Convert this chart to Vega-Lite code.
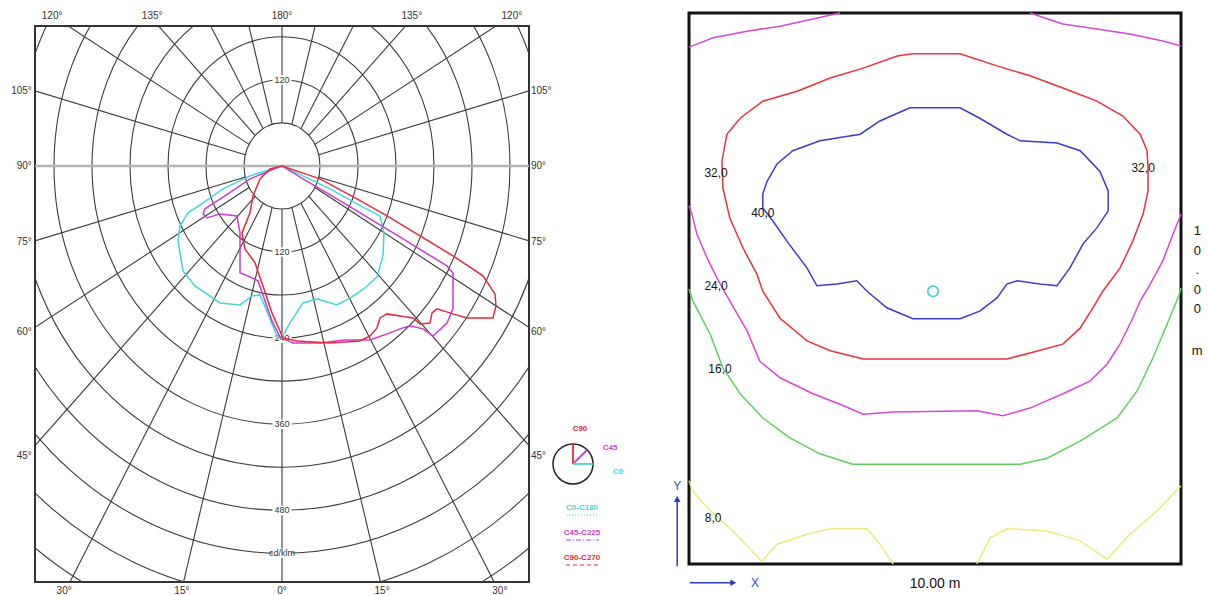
{
  "$schema": "https://vega.github.io/schema/vega-lite/v6.json",
  "autosize": {"type": "pad"},
  "padding": {"left": 10, "top": 9, "right": 8, "bottom": 2},
  "background": "white",
  "spacing": 160,
  "bounds": "flush",
  "resolve": {"scale": {"color": "independent", "size": "independent", "strokeDash": "independent"}},
  "config": {"view": {"stroke": null}, "text": {"font": "Liberation Sans"}},
  "datasets": {
    "rings": [{"r":60},{"r":120},{"r":180},{"r":240},{"r":300},{"r":360},{"r":420},{"r":480},{"r":540},{"r":600},{"r":660}],
    "rays": [
      {"x":0,"y":-60,"x2":0,"y2":-800},
      {"x":15.53,"y":-57.96,"x2":207.1,"y2":-772.7},
      {"x":30,"y":-51.96,"x2":400,"y2":-692.8},
      {"x":42.43,"y":-42.43,"x2":565.7,"y2":-565.7},
      {"x":51.96,"y":-30,"x2":692.8,"y2":-400},
      {"x":57.96,"y":-15.53,"x2":772.7,"y2":-207.1},
      {"x":57.96,"y":15.53,"x2":772.7,"y2":207.1},
      {"x":51.96,"y":30,"x2":692.8,"y2":400},
      {"x":42.43,"y":42.43,"x2":565.7,"y2":565.7},
      {"x":30,"y":51.96,"x2":400,"y2":692.8},
      {"x":15.53,"y":57.96,"x2":207.1,"y2":772.7},
      {"x":0,"y":60,"x2":0,"y2":800},
      {"x":-15.53,"y":-57.96,"x2":-207.1,"y2":-772.7},
      {"x":-30,"y":-51.96,"x2":-400,"y2":-692.8},
      {"x":-42.43,"y":-42.43,"x2":-565.7,"y2":-565.7},
      {"x":-51.96,"y":-30,"x2":-692.8,"y2":-400},
      {"x":-57.96,"y":-15.53,"x2":-772.7,"y2":-207.1},
      {"x":-57.96,"y":15.53,"x2":-772.7,"y2":207.1},
      {"x":-51.96,"y":30,"x2":-692.8,"y2":400},
      {"x":-42.43,"y":42.43,"x2":-565.7,"y2":565.7},
      {"x":-30,"y":51.96,"x2":-400,"y2":692.8},
      {"x":-15.53,"y":57.96,"x2":-207.1,"y2":772.7}
    ],
    "plab": [{"t":"120","y":120},{"t":"120","y":-120},{"t":"240","y":-240},{"t":"360","y":-360},{"t":"480","y":-480},{"t":"cd/klm","y":-540}],
    "alab": [
      {"t":"120°","side":"t","x":-363,"y":209},{"t":"135°","side":"t","x":-205,"y":209},{"t":"180°","side":"t","x":0,"y":209},{"t":"135°","side":"t","x":205,"y":209},{"t":"120°","side":"t","x":363,"y":209},
      {"t":"30°","side":"b","x":-344,"y":-592},{"t":"15°","side":"b","x":-158,"y":-592},{"t":"0°","side":"b","x":0,"y":-592},{"t":"15°","side":"b","x":158,"y":-592},{"t":"30°","side":"b","x":344,"y":-592},
      {"t":"105°","side":"l","x":-395,"y":104},{"t":"90°","side":"l","x":-395,"y":0},{"t":"75°","side":"l","x":-395,"y":-106},{"t":"60°","side":"l","x":-395,"y":-232},{"t":"45°","side":"l","x":-395,"y":-404},
      {"t":"105°","side":"r","x":393,"y":104},{"t":"90°","side":"r","x":393,"y":0},{"t":"75°","side":"r","x":393,"y":-106},{"t":"60°","side":"r","x":393,"y":-232},{"t":"45°","side":"r","x":393,"y":-404}
    ],
    "curves": [
      {"s":"C0-C180","x":0,"y":0},{"s":"C0-C180","x":-50.5,"y":-13.9},{"s":"C0-C180","x":-93.2,"y":-32.1},{"s":"C0-C180","x":-124.7,"y":-51.6},{"s":"C0-C180","x":-148.4,"y":-65.5},{"s":"C0-C180","x":-161.1,"y":-83.6},{"s":"C0-C180","x":-164.2,"y":-104.6},{"s":"C0-C180","x":-156.3,"y":-146.4},{"s":"C0-C180","x":-137.4,"y":-167.3},{"s":"C0-C180","x":-97.9,"y":-191.0},{"s":"C0-C180","x":-66.3,"y":-193.8},{"s":"C0-C180","x":-47.4,"y":-181.2},{"s":"C0-C180","x":-34.7,"y":-179.8},{"s":"C0-C180","x":-22.1,"y":-206.3},{"s":"C0-C180","x":-7.9,"y":-237.0},{"s":"C0-C180","x":-1.6,"y":-241.2},{"s":"C0-C180","x":12.6,"y":-218.9},{"s":"C0-C180","x":33.2,"y":-191.0},{"s":"C0-C180","x":55.3,"y":-185.4},{"s":"C0-C180","x":86.8,"y":-193.8},{"s":"C0-C180","x":110.5,"y":-182.6},{"s":"C0-C180","x":131.1,"y":-170.1},{"s":"C0-C180","x":150.0,"y":-154.7},{"s":"C0-C180","x":159.5,"y":-125.5},{"s":"C0-C180","x":161.1,"y":-93.4},{"s":"C0-C180","x":154.7,"y":-69.7},{"s":"C0-C180","x":118.4,"y":-53.0},{"s":"C0-C180","x":75.8,"y":-32.1},{"s":"C0-C180","x":33.2,"y":-13.9},{"s":"C0-C180","x":0,"y":0},
      {"s":"C45-C225","x":0,"y":0},{"s":"C45-C225","x":-50.5,"y":-18.1},{"s":"C45-C225","x":-90.0,"y":-41.8},{"s":"C45-C225","x":-121.6,"y":-59.9},{"s":"C45-C225","x":-124.7,"y":-66.9},{"s":"C45-C225","x":-118.4,"y":-72.5},{"s":"C45-C225","x":-97.9,"y":-66.9},{"s":"C45-C225","x":-71.1,"y":-69.7},{"s":"C45-C225","x":-66.3,"y":-93.4},{"s":"C45-C225","x":-66.3,"y":-149.2},{"s":"C45-C225","x":-50.5,"y":-154.7},{"s":"C45-C225","x":-37.9,"y":-160.3},{"s":"C45-C225","x":-26.8,"y":-188.2},{"s":"C45-C225","x":-15.8,"y":-216.1},{"s":"C45-C225","x":-3.2,"y":-238.4},{"s":"C45-C225","x":17.4,"y":-246.7},{"s":"C45-C225","x":60.0,"y":-246.7},{"s":"C45-C225","x":99.5,"y":-242.6},{"s":"C45-C225","x":139.0,"y":-242.6},{"s":"C45-C225","x":170.5,"y":-232.8},{"s":"C45-C225","x":186.3,"y":-227.2},{"s":"C45-C225","x":202.1,"y":-223.0},{"s":"C45-C225","x":222.6,"y":-227.2},{"s":"C45-C225","x":238.4,"y":-237.0},{"s":"C45-C225","x":260.5,"y":-218.9},{"s":"C45-C225","x":270.0,"y":-199.3},{"s":"C45-C225","x":270.0,"y":-149.2},{"s":"C45-C225","x":260.5,"y":-139.4},{"s":"C45-C225","x":191.1,"y":-101.8},{"s":"C45-C225","x":139.0,"y":-73.9},{"s":"C45-C225","x":86.8,"y":-46.0},{"s":"C45-C225","x":33.2,"y":-18.1},{"s":"C45-C225","x":0,"y":0},
      {"s":"C90-C270","x":0,"y":0},{"s":"C90-C270","x":60.0,"y":-18.1},{"s":"C90-C270","x":118.4,"y":-46.0},{"s":"C90-C270","x":165.8,"y":-69.7},{"s":"C90-C270","x":217.9,"y":-97.6},{"s":"C90-C270","x":270.0,"y":-125.5},{"s":"C90-C270","x":317.4,"y":-153.3},{"s":"C90-C270","x":336.3,"y":-178.4},{"s":"C90-C270","x":337.9,"y":-195.2},{"s":"C90-C270","x":333.2,"y":-211.9},{"s":"C90-C270","x":292.1,"y":-211.9},{"s":"C90-C270","x":270.0,"y":-206.3},{"s":"C90-C270","x":244.7,"y":-199.3},{"s":"C90-C270","x":236.9,"y":-204.9},{"s":"C90-C270","x":233.7,"y":-218.9},{"s":"C90-C270","x":217.9,"y":-220.3},{"s":"C90-C270","x":206.8,"y":-211.9},{"s":"C90-C270","x":186.3,"y":-209.1},{"s":"C90-C270","x":165.8,"y":-206.3},{"s":"C90-C270","x":154.7,"y":-211.9},{"s":"C90-C270","x":150.0,"y":-225.8},{"s":"C90-C270","x":139.0,"y":-237.0},{"s":"C90-C270","x":123.2,"y":-244.0},{"s":"C90-C270","x":75.8,"y":-246.7},{"s":"C90-C270","x":23.7,"y":-244.0},{"s":"C90-C270","x":1.6,"y":-239.8},{"s":"C90-C270","x":-15.8,"y":-204.9},{"s":"C90-C270","x":-30.0,"y":-167.3},{"s":"C90-C270","x":-42.6,"y":-135.2},{"s":"C90-C270","x":-58.4,"y":-115.7},{"s":"C90-C270","x":-63.2,"y":-93.4},{"s":"C90-C270","x":-50.5,"y":-65.5},{"s":"C90-C270","x":-45.8,"y":-41.8},{"s":"C90-C270","x":-34.7,"y":-18.1},{"s":"C90-C270","x":-18.9,"y":-4.2},{"s":"C90-C270","x":0,"y":0}
    ],
    "legl": [
      {"s":"C90-C270","x":459.5,"y":-415.5,"x2":459.5,"y2":-387.6},
      {"s":"C45-C225","x":459.5,"y":-415.5,"x2":481.6,"y2":-396.0},
      {"s":"C0-C180","x":459.5,"y":-415.5,"x2":491.1,"y2":-415.5}
    ],
    "legt": [
      {"s":"C90-C270","t":"C90","x":470.5,"y":-366.7},
      {"s":"C45-C225","t":"C45","x":517.9,"y":-393.2},
      {"s":"C0-C180","t":"C0","x":530.5,"y":-426.7},
      {"s":"C0-C180","t":"C0-C180","x":473.7,"y":-476.9},
      {"s":"C45-C225","t":"C45-C225","x":473.7,"y":-511.7},
      {"s":"C90-C270","t":"C90-C270","x":473.7,"y":-546.6}
    ],
    "legu": [
      {"s":"C0-C180","x":448.4,"x2":500.5,"y":-486.6},
      {"s":"C45-C225","x":448.4,"x2":500.5,"y":-521.5},
      {"s":"C90-C270","x":448.4,"x2":500.5,"y":-556.3}
    ],
    "contours": [
      {"id":"24a","x":0,"y":9.38},{"id":"24a","x":0.49,"y":9.55},{"id":"24a","x":1.18,"y":9.67},{"id":"24a","x":1.85,"y":9.76},{"id":"24a","x":2.52,"y":9.89},{"id":"24a","x":3.07,"y":10.0},
      {"id":"24b","x":6.93,"y":10.0},{"id":"24b","x":7.60,"y":9.80},{"id":"24b","x":8.29,"y":9.71},{"id":"24b","x":8.96,"y":9.62},{"id":"24b","x":9.63,"y":9.49},{"id":"24b","x":10.0,"y":9.40},
      {"id":"32","x":0.69,"y":6.82},{"id":"32","x":0.67,"y":7.31},{"id":"32","x":0.77,"y":7.80},{"id":"32","x":1.04,"y":8.09},{"id":"32","x":1.50,"y":8.40},{"id":"32","x":2.20,"y":8.58},{"id":"32","x":2.87,"y":8.82},{"id":"32","x":3.54,"y":9.00},{"id":"32","x":4.23,"y":9.22},{"id":"32","x":4.55,"y":9.26},{"id":"32","x":5.51,"y":9.26},{"id":"32","x":6.26,"y":9.04},{"id":"32","x":6.93,"y":8.86},{"id":"32","x":7.60,"y":8.64},{"id":"32","x":8.29,"y":8.40},{"id":"32","x":8.82,"y":8.13},{"id":"32","x":9.17,"y":7.80},{"id":"32","x":9.31,"y":7.50},{"id":"32","x":9.33,"y":7.19},{"id":"32","x":9.33,"y":6.77},{"id":"32","x":9.23,"y":6.35},{"id":"32","x":9.02,"y":5.86},{"id":"32","x":8.76,"y":5.37},{"id":"32","x":8.41,"y":4.95},{"id":"32","x":8.21,"y":4.65},{"id":"32","x":7.95,"y":4.28},{"id":"32","x":7.60,"y":3.99},{"id":"32","x":6.93,"y":3.83},{"id":"32","x":6.46,"y":3.72},{"id":"32","x":3.54,"y":3.72},{"id":"32","x":2.87,"y":3.87},{"id":"32","x":2.40,"y":4.05},{"id":"32","x":1.85,"y":4.46},{"id":"32","x":1.50,"y":4.95},{"id":"32","x":1.38,"y":5.26},{"id":"32","x":1.10,"y":5.73},{"id":"32","x":0.83,"y":6.28},{"id":"32","x":0.69,"y":6.82},
      {"id":"40","x":1.50,"y":6.72},{"id":"40","x":1.59,"y":6.95},{"id":"40","x":1.79,"y":7.26},{"id":"40","x":2.11,"y":7.50},{"id":"40","x":2.66,"y":7.68},{"id":"40","x":3.48,"y":7.80},{"id":"40","x":3.88,"y":8.04},{"id":"40","x":4.49,"y":8.28},{"id":"40","x":5.51,"y":8.28},{"id":"40","x":5.91,"y":8.09},{"id":"40","x":6.46,"y":7.80},{"id":"40","x":6.73,"y":7.68},{"id":"40","x":7.48,"y":7.64},{"id":"40","x":7.95,"y":7.50},{"id":"40","x":8.35,"y":7.13},{"id":"40","x":8.52,"y":6.77},{"id":"40","x":8.52,"y":6.41},{"id":"40","x":8.29,"y":6.10},{"id":"40","x":8.01,"y":5.81},{"id":"40","x":7.74,"y":5.37},{"id":"40","x":7.48,"y":5.05},{"id":"40","x":7.13,"y":5.08},{"id":"40","x":6.67,"y":5.14},{"id":"40","x":6.46,"y":5.08},{"id":"40","x":6.26,"y":4.83},{"id":"40","x":5.91,"y":4.59},{"id":"40","x":5.51,"y":4.45},{"id":"40","x":4.55,"y":4.45},{"id":"40","x":4.02,"y":4.65},{"id":"40","x":3.62,"y":4.95},{"id":"40","x":3.41,"y":5.14},{"id":"40","x":3.01,"y":5.08},{"id":"40","x":2.60,"y":5.05},{"id":"40","x":2.40,"y":5.37},{"id":"40","x":1.99,"y":5.86},{"id":"40","x":1.71,"y":6.22},{"id":"40","x":1.50,"y":6.46},{"id":"40","x":1.50,"y":6.72},
      {"id":"24","x":0,"y":6.50},{"id":"24","x":0.06,"y":6.35},{"id":"24","x":0.16,"y":5.99},{"id":"24","x":0.37,"y":5.55},{"id":"24","x":0.57,"y":5.19},{"id":"24","x":0.83,"y":4.77},{"id":"24","x":1.18,"y":4.23},{"id":"24","x":1.44,"y":3.68},{"id":"24","x":1.85,"y":3.38},{"id":"24","x":2.52,"y":3.09},{"id":"24","x":3.07,"y":2.90},{"id":"24","x":3.54,"y":2.72},{"id":"24","x":4.15,"y":2.76},{"id":"24","x":5.85,"y":2.78},{"id":"24","x":6.38,"y":2.69},{"id":"24","x":6.93,"y":2.83},{"id":"24","x":7.60,"y":3.09},{"id":"24","x":8.15,"y":3.32},{"id":"24","x":8.50,"y":3.63},{"id":"24","x":8.76,"y":3.99},{"id":"24","x":9.02,"y":4.46},{"id":"24","x":9.17,"y":4.77},{"id":"24","x":9.37,"y":5.07},{"id":"24","x":9.63,"y":5.50},{"id":"24","x":9.84,"y":5.99},{"id":"24","x":10.0,"y":6.35},
      {"id":"16","x":0,"y":4.99},{"id":"16","x":0.08,"y":4.77},{"id":"16","x":0.43,"y":4.17},{"id":"16","x":0.69,"y":3.56},{"id":"16","x":1.04,"y":3.09},{"id":"16","x":1.50,"y":2.65},{"id":"16","x":2.05,"y":2.29},{"id":"16","x":2.66,"y":2.00},{"id":"16","x":3.33,"y":1.81},{"id":"16","x":6.73,"y":1.81},{"id":"16","x":7.28,"y":1.92},{"id":"16","x":7.95,"y":2.23},{"id":"16","x":8.70,"y":2.65},{"id":"16","x":9.11,"y":3.14},{"id":"16","x":9.43,"y":3.74},{"id":"16","x":9.72,"y":4.36},{"id":"16","x":9.94,"y":4.83},{"id":"16","x":10.0,"y":5.01},
      {"id":"8a","x":0,"y":1.51},{"id":"8a","x":0.08,"y":1.32},{"id":"8a","x":0.37,"y":1.02},{"id":"8a","x":0.89,"y":0.60},{"id":"8a","x":1.48,"y":0.05},{"id":"8a","x":1.79,"y":0.36},{"id":"8a","x":2.40,"y":0.54},{"id":"8a","x":2.87,"y":0.64},{"id":"8a","x":3.62,"y":0.64},{"id":"8a","x":3.88,"y":0.36},{"id":"8a","x":4.15,"y":0},
      {"id":"8b","x":5.85,"y":0},{"id":"8b","x":6.12,"y":0.47},{"id":"8b","x":6.46,"y":0.64},{"id":"8b","x":7.28,"y":0.60},{"id":"8b","x":7.95,"y":0.42},{"id":"8b","x":8.50,"y":0.09},{"id":"8b","x":8.96,"y":0.54},{"id":"8b","x":9.51,"y":0.96},{"id":"8b","x":10.0,"y":1.42}
    ],
    "clab": [
      {"t":"32,0","x":0.55,"y":7.10},{"t":"32,0","x":9.23,"y":7.19},{"t":"40,0","x":1.50,"y":6.37},{"t":"24,0","x":0.55,"y":5.05},{"t":"16,0","x":0.63,"y":3.54},{"t":"8,0","x":0.49,"y":0.83}
    ]
  },
  "hconcat": [
    {
      "width": 494,
      "height": 556,
      "view": {"stroke": "#333333", "strokeWidth": 2},
      "layer": [
        {
          "data": {"name": "rings"},
          "mark": {"type": "point", "shape": "M0,-1.13277A1,1.13277,0,0,1,1,0A1,1.13277,0,0,1,0,1.13277A1,1.13277,0,0,1,-1,0A1,1.13277,0,0,1,0,-1.13277Z", "filled": false, "stroke": "#3a3a3a", "strokeWidth": 1.1, "opacity": 1, "clip": true},
          "encoding": {
            "x": {"datum": 0, "type": "quantitative", "scale": {"domain": [-390, 390], "nice": false, "zero": false}, "axis": null},
            "y": {"datum": 0, "type": "quantitative", "scale": {"domain": [-580, 195], "nice": false, "zero": false}, "axis": null},
            "size": {"field": "r", "type": "quantitative", "scale": {"type": "pow", "exponent": 2, "domain": [0, 660], "range": [0, 698896]}, "legend": null}
          }
        },
        {
          "data": {"name": "rays"},
          "mark": {"type": "rule", "stroke": "#3a3a3a", "strokeWidth": 1.1, "clip": true},
          "encoding": {
            "x": {"field": "x", "type": "quantitative", "scale": {"domain": [-390, 390], "nice": false, "zero": false}, "axis": null},
            "y": {"field": "y", "type": "quantitative", "scale": {"domain": [-580, 195], "nice": false, "zero": false}, "axis": null},
            "x2": {"field": "x2"},
            "y2": {"field": "y2"}
          }
        },
        {
          "data": {"values": [{}]},
          "mark": {"type": "rule", "stroke": "#b4b4b4", "strokeWidth": 2.5},
          "encoding": {
            "y": {"datum": 0, "type": "quantitative", "scale": {"domain": [-580, 195], "nice": false, "zero": false}, "axis": null}
          }
        },
        {
          "data": {"name": "plab"},
          "mark": {"type": "point", "shape": "M-1,-0.5H1V0.5H-1Z", "filled": true, "color": "white", "opacity": 1, "size": 361},
          "encoding": {
            "x": {"datum": 0, "type": "quantitative", "scale": {"domain": [-390, 390], "nice": false, "zero": false}, "axis": null},
            "y": {"field": "y", "type": "quantitative", "scale": {"domain": [-580, 195], "nice": false, "zero": false}, "axis": null}
          }
        },
        {
          "data": {"name": "plab"},
          "mark": {"type": "text", "fontSize": 9, "fill": "#333333", "align": "center", "baseline": "middle"},
          "encoding": {
            "x": {"datum": 0, "type": "quantitative", "scale": {"domain": [-390, 390], "nice": false, "zero": false}, "axis": null},
            "y": {"field": "y", "type": "quantitative", "scale": {"domain": [-580, 195], "nice": false, "zero": false}, "axis": null},
            "text": {"field": "t"}
          }
        },
        {
          "data": {"name": "curves"},
          "mark": {"type": "line", "strokeWidth": 1.5, "clip": true},
          "encoding": {
            "x": {"field": "x", "type": "quantitative", "scale": {"domain": [-390, 390], "nice": false, "zero": false}, "axis": null},
            "y": {"field": "y", "type": "quantitative", "scale": {"domain": [-580, 195], "nice": false, "zero": false}, "axis": null},
            "color": {"field": "s", "type": "nominal", "scale": {"domain": ["C0-C180", "C45-C225", "C90-C270"], "range": ["#3fd8d8", "#cc3ccc", "#e8283c"]}, "legend": null},
            "detail": {"field": "s"},
            "order": {"value": null}
          }
        },
        {
          "data": {"name": "alab"},
          "transform": [{"filter": "datum.side === 't' || datum.side === 'b'"}],
          "mark": {"type": "text", "fontSize": 10, "fill": "#333333", "align": "center", "baseline": "middle"},
          "encoding": {
            "x": {"field": "x", "type": "quantitative", "scale": {"domain": [-390, 390], "nice": false, "zero": false}, "axis": null},
            "y": {"field": "y", "type": "quantitative", "scale": {"domain": [-580, 195], "nice": false, "zero": false}, "axis": null},
            "text": {"field": "t"}
          }
        },
        {
          "data": {"name": "alab"},
          "transform": [{"filter": "datum.side === 'l'"}],
          "mark": {"type": "text", "fontSize": 10, "fill": "#333333", "align": "right", "baseline": "middle"},
          "encoding": {
            "x": {"field": "x", "type": "quantitative", "scale": {"domain": [-390, 390], "nice": false, "zero": false}, "axis": null},
            "y": {"field": "y", "type": "quantitative", "scale": {"domain": [-580, 195], "nice": false, "zero": false}, "axis": null},
            "text": {"field": "t"}
          }
        },
        {
          "data": {"name": "alab"},
          "transform": [{"filter": "datum.side === 'r'"}],
          "mark": {"type": "text", "fontSize": 10, "fill": "#333333", "align": "left", "baseline": "middle"},
          "encoding": {
            "x": {"field": "x", "type": "quantitative", "scale": {"domain": [-390, 390], "nice": false, "zero": false}, "axis": null},
            "y": {"field": "y", "type": "quantitative", "scale": {"domain": [-580, 195], "nice": false, "zero": false}, "axis": null},
            "text": {"field": "t"}
          }
        },
        {
          "data": {"values": [{}]},
          "mark": {"type": "point", "shape": "circle", "filled": false, "stroke": "#222222", "strokeWidth": 1.5, "opacity": 1, "size": 1600},
          "encoding": {
            "x": {"datum": 459.5, "type": "quantitative", "scale": {"domain": [-390, 390], "nice": false, "zero": false}, "axis": null},
            "y": {"datum": -415.5, "type": "quantitative", "scale": {"domain": [-580, 195], "nice": false, "zero": false}, "axis": null}
          }
        },
        {
          "data": {"name": "legl"},
          "mark": {"type": "rule", "strokeWidth": 1.8},
          "encoding": {
            "x": {"field": "x", "type": "quantitative", "scale": {"domain": [-390, 390], "nice": false, "zero": false}, "axis": null},
            "y": {"field": "y", "type": "quantitative", "scale": {"domain": [-580, 195], "nice": false, "zero": false}, "axis": null},
            "x2": {"field": "x2"},
            "y2": {"field": "y2"},
            "color": {"field": "s", "type": "nominal", "scale": {"domain": ["C0-C180", "C45-C225", "C90-C270"], "range": ["#3fd8d8", "#cc3ccc", "#e8283c"]}, "legend": null}
          }
        },
        {
          "data": {"name": "legt"},
          "mark": {"type": "text", "fontSize": 8, "fontWeight": "bold", "align": "center", "baseline": "middle"},
          "encoding": {
            "x": {"field": "x", "type": "quantitative", "scale": {"domain": [-390, 390], "nice": false, "zero": false}, "axis": null},
            "y": {"field": "y", "type": "quantitative", "scale": {"domain": [-580, 195], "nice": false, "zero": false}, "axis": null},
            "text": {"field": "t"},
            "color": {"field": "s", "type": "nominal", "scale": {"domain": ["C0-C180", "C45-C225", "C90-C270"], "range": ["#3fd8d8", "#cc3ccc", "#e8283c"]}, "legend": null}
          }
        },
        {
          "data": {"name": "legu"},
          "mark": {"type": "rule", "strokeWidth": 1},
          "encoding": {
            "x": {"field": "x", "type": "quantitative", "scale": {"domain": [-390, 390], "nice": false, "zero": false}, "axis": null},
            "y": {"field": "y", "type": "quantitative", "scale": {"domain": [-580, 195], "nice": false, "zero": false}, "axis": null},
            "x2": {"field": "x2"},
            "color": {"field": "s", "type": "nominal", "scale": {"domain": ["C0-C180", "C45-C225", "C90-C270"], "range": ["#3fd8d8", "#cc3ccc", "#e8283c"]}, "legend": null},
            "strokeDash": {"field": "s", "type": "nominal", "scale": {"domain": ["C0-C180", "C45-C225", "C90-C270"], "range": [[1, 2], [5, 2, 1, 2], [4, 3]]}, "legend": null}
          }
        }
      ]
    },
    {
      "width": 492,
      "height": 538,
      "layer": [
        {
          "data": {"values": [{}]},
          "mark": {"type": "rect", "filled": false, "stroke": "#111111", "strokeWidth": 3},
          "encoding": {
            "x": {"datum": 0, "type": "quantitative", "scale": {"domain": [0, 10], "nice": false, "zero": false}, "axis": null},
            "x2": {"datum": 10},
            "y": {"datum": 0, "type": "quantitative", "scale": {"domain": [0, 9.764], "nice": false, "zero": false}, "axis": null},
            "y2": {"datum": 10}
          }
        },
        {
          "data": {"name": "contours"},
          "mark": {"type": "line", "strokeWidth": 1.5},
          "encoding": {
            "x": {"field": "x", "type": "quantitative", "scale": {"domain": [0, 10], "nice": false, "zero": false}, "axis": null},
            "y": {"field": "y", "type": "quantitative", "scale": {"domain": [0, 9.764], "nice": false, "zero": false}, "axis": null},
            "color": {"field": "id", "type": "nominal", "scale": {"domain": ["8a", "8b", "16", "24", "24a", "24b", "32", "40"], "range": ["#ecec7a", "#ecec7a", "#5fcf5f", "#d748d7", "#d748d7", "#d748d7", "#e8323c", "#3c3cc8"]}, "legend": null},
            "detail": {"field": "id"},
            "order": {"value": null}
          }
        },
        {
          "data": {"name": "clab"},
          "mark": {"type": "text", "fontSize": 12, "fill": "#111111", "align": "center", "baseline": "middle"},
          "encoding": {
            "x": {"field": "x", "type": "quantitative", "scale": {"domain": [0, 10], "nice": false, "zero": false}, "axis": null},
            "y": {"field": "y", "type": "quantitative", "scale": {"domain": [0, 9.764], "nice": false, "zero": false}, "axis": null},
            "text": {"field": "t"}
          }
        },
        {
          "data": {"values": [{}]},
          "mark": {"type": "point", "shape": "circle", "filled": false, "stroke": "#38c8d8", "strokeWidth": 1.5, "opacity": 1, "size": 110},
          "encoding": {
            "x": {"datum": 4.96, "type": "quantitative", "scale": {"domain": [0, 10], "nice": false, "zero": false}, "axis": null},
            "y": {"datum": 4.95, "type": "quantitative", "scale": {"domain": [0, 9.764], "nice": false, "zero": false}, "axis": null}
          }
        },
        {
          "data": {"values": [{"x": 0.02, "x2": 0.9, "y": -0.34, "y2": -0.34}, {"x": -0.24, "x2": -0.24, "y": -0.04, "y2": 1.18}]},
          "mark": {"type": "rule", "stroke": "#2a3ab8", "strokeWidth": 1.5},
          "encoding": {
            "x": {"field": "x", "type": "quantitative", "scale": {"domain": [0, 10], "nice": false, "zero": false}, "axis": null},
            "y": {"field": "y", "type": "quantitative", "scale": {"domain": [0, 9.764], "nice": false, "zero": false}, "axis": null},
            "x2": {"field": "x2"},
            "y2": {"field": "y2"}
          }
        },
        {
          "data": {"values": [{}]},
          "mark": {"type": "point", "shape": "triangle-right", "filled": true, "color": "#2a3ab8", "opacity": 1, "size": 45},
          "encoding": {
            "x": {"datum": 0.9, "type": "quantitative", "scale": {"domain": [0, 10], "nice": false, "zero": false}, "axis": null},
            "y": {"datum": -0.34, "type": "quantitative", "scale": {"domain": [0, 9.764], "nice": false, "zero": false}, "axis": null}
          }
        },
        {
          "data": {"values": [{}]},
          "mark": {"type": "point", "shape": "triangle-up", "filled": true, "color": "#2a3ab8", "opacity": 1, "size": 45},
          "encoding": {
            "x": {"datum": -0.24, "type": "quantitative", "scale": {"domain": [0, 10], "nice": false, "zero": false}, "axis": null},
            "y": {"datum": 1.18, "type": "quantitative", "scale": {"domain": [0, 9.764], "nice": false, "zero": false}, "axis": null}
          }
        },
        {
          "data": {"values": [{"t": "X", "x": 1.34, "y": -0.34}, {"t": "Y", "x": -0.24, "y": 1.42}]},
          "mark": {"type": "text", "fontSize": 12, "fill": "#3a4ac8", "align": "center", "baseline": "middle"},
          "encoding": {
            "x": {"field": "x", "type": "quantitative", "scale": {"domain": [0, 10], "nice": false, "zero": false}, "axis": null},
            "y": {"field": "y", "type": "quantitative", "scale": {"domain": [0, 9.764], "nice": false, "zero": false}, "axis": null},
            "text": {"field": "t"}
          }
        },
        {
          "data": {"values": [{"t": "10.00 m", "x": 5.0, "y": -0.37}]},
          "mark": {"type": "text", "fontSize": 14, "fill": "#111111", "align": "center", "baseline": "middle"},
          "encoding": {
            "x": {"field": "x", "type": "quantitative", "scale": {"domain": [0, 10], "nice": false, "zero": false}, "axis": null},
            "y": {"field": "y", "type": "quantitative", "scale": {"domain": [0, 9.764], "nice": false, "zero": false}, "axis": null},
            "text": {"field": "t"}
          }
        },
        {
          "data": {"values": [{"t": "1|0|.|0|0", "x": 10.33, "y": 6.15}]},
          "mark": {"type": "text", "fontSize": 13, "fill": "#111111", "align": "center", "baseline": "top", "lineBreak": "|", "lineHeight": 19.5},
          "encoding": {
            "x": {"field": "x", "type": "quantitative", "scale": {"domain": [0, 10], "nice": false, "zero": false}, "axis": null},
            "y": {"field": "y", "type": "quantitative", "scale": {"domain": [0, 9.764], "nice": false, "zero": false}, "axis": null},
            "text": {"field": "t"}
          }
        },
        {
          "data": {"values": [{"t": "m", "x": 10.33, "y": 3.87}]},
          "mark": {"type": "text", "fontSize": 13, "fill": "#111111", "align": "center", "baseline": "middle"},
          "encoding": {
            "x": {"field": "x", "type": "quantitative", "scale": {"domain": [0, 10], "nice": false, "zero": false}, "axis": null},
            "y": {"field": "y", "type": "quantitative", "scale": {"domain": [0, 9.764], "nice": false, "zero": false}, "axis": null},
            "text": {"field": "t"}
          }
        }
      ]
    }
  ]
}
